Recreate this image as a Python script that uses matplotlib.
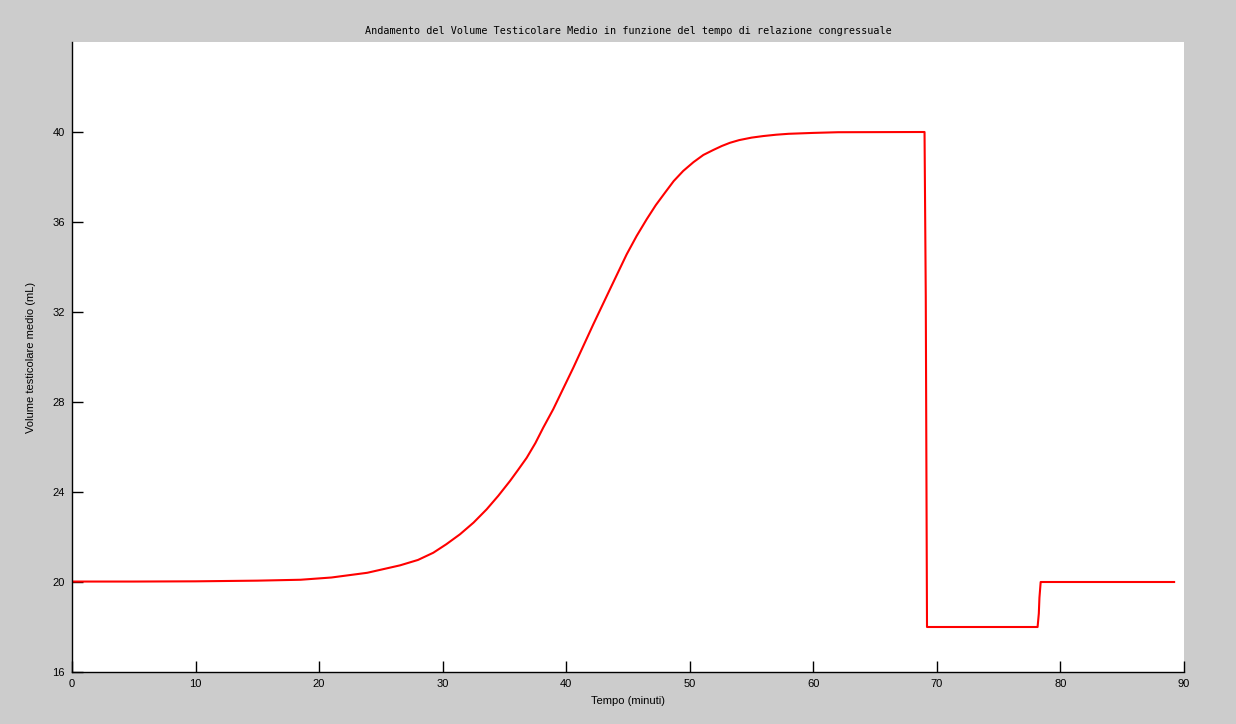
import matplotlib
matplotlib.use("Agg")
import matplotlib.pyplot as plt

# tempo (minuti) e volume medio (mL)
tempo = [0, 5, 10, 15, 18.5, 21, 23.9, 26.55, 28.0, 29.24, 30.3, 31.4,
         32.5, 33.56, 34.5, 35.45, 36.1, 36.8, 37.5, 38.14, 38.95, 40.57,
         42.19, 43.54, 44.89, 45.7, 46.51, 47.25, 47.99, 48.7, 49.47, 50.3,
         51.1, 51.9, 52.6, 53.25, 54.0, 55.0, 55.95, 57.0, 58.0, 60.0, 62.0,
         69.0, 69.1, 69.15, 69.2, 78.15, 78.25, 78.3, 78.4, 89.2]
volume = [20.02, 20.02, 20.03, 20.06, 20.1, 20.2, 20.41, 20.74, 20.98,
          21.3, 21.68, 22.12, 22.64, 23.23, 23.83, 24.49, 24.98, 25.52,
          26.17, 26.86, 27.68, 29.52, 31.45, 33.01, 34.56, 35.38, 36.12,
          36.75, 37.3, 37.82, 38.27, 38.66, 38.98, 39.2, 39.38, 39.52,
          39.64, 39.75, 39.82, 39.88, 39.92, 39.96, 39.99,
          40.0, 32.7, 25.3, 18.0, 18.0, 18.6, 19.3, 20.0, 20.0]

xticks = [0, 10, 20, 30, 40, 50, 60, 70, 80, 90]
yticks = [16, 20, 24, 28, 32, 36, 40]

fig = plt.figure(figsize=(12.36, 7.24), dpi=100, facecolor="#cccccc")
ax = fig.add_axes([72/1236, 52/724, 1112/1236, 630/724])
ax.set_facecolor("white")

ax.plot(tempo, volume, color="red", lw=1.5)

ax.set_xlim(0, 90)
ax.set_ylim(16, 44)
ax.set_xticks(xticks)
ax.set_yticks(yticks)
for s in ("top", "right"):
    ax.spines[s].set_visible(False)
for s in ("left", "bottom"):
    ax.spines[s].set_linewidth(1.0)
ax.tick_params(direction="in", length=8, width=1, labelsize=8, pad=5)
for lab in ax.get_xticklabels() + ax.get_yticklabels():
    lab.set_family("Liberation Sans")

ax.set_xlabel("Tempo (minuti)", family="Liberation Sans", fontsize=8, labelpad=5)
ax.set_ylabel("Volume testicolare medio (mL)", family="Liberation Sans",
              fontsize=8, labelpad=12)
ax.set_title("Andamento del Volume Testicolare Medio in funzione del tempo di relazione congressuale",
             family="DejaVu Sans Mono", fontsize=7.3, pad=6)

fig.savefig("out.png", dpi=100, facecolor=fig.get_facecolor())
